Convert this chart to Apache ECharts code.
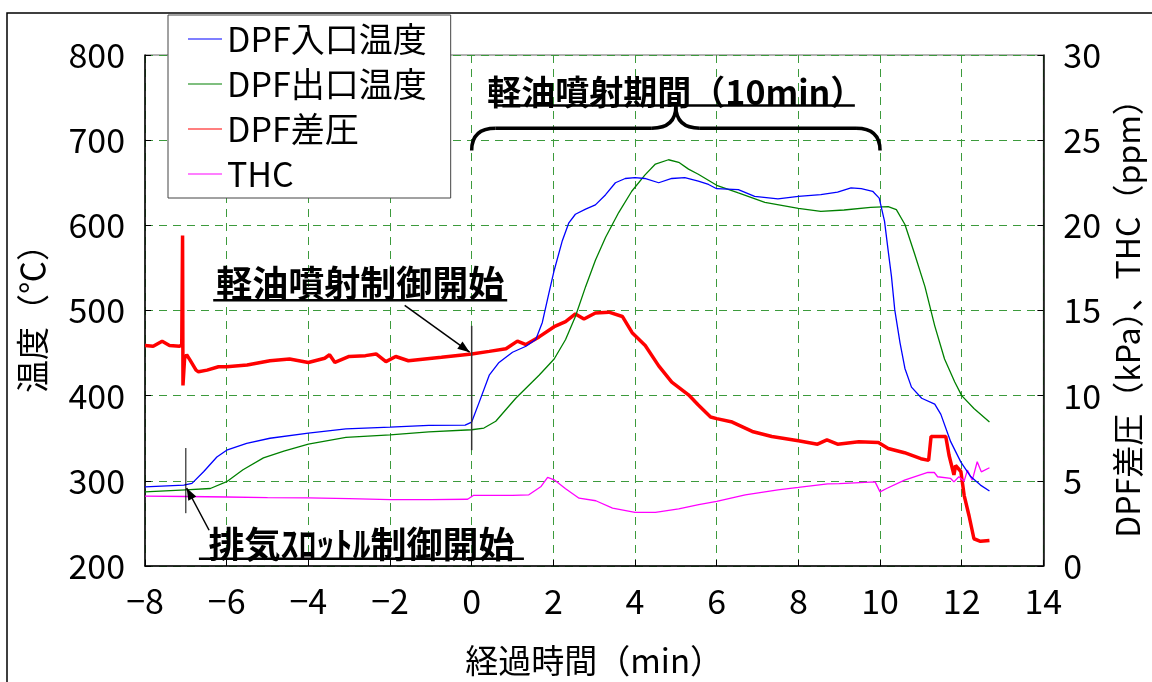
<!DOCTYPE html>
<html><head><meta charset="utf-8">
<script src="https://cdn.jsdelivr.net/npm/echarts@6/dist/echarts.min.js"></script>
<style>html,body{margin:0;padding:0;background:#fff}#c{width:1152px;height:682px}</style>
</head><body><div id="c"></div>
<script>
// ---- data (time in min, temperatures in °C, DPF差圧 in kPa, THC in ppm) ----
const seriesNames = ['DPF入口温度', 'DPF出口温度', 'DPF差圧', 'THC'];
const inletTemp = [[-8,293],[-7.05,295],[-6.85,297],[-6.56,311],[-6.24,328],[-6,336],[-5.51,344],[-4.94,350],[-4,356],[-3.08,361],[-2,363],[-1.05,365],[-0.16,365.5],[0,369],[0.19,393],[0.43,424],[0.67,439],[1,451],[1.33,458],[1.57,466],[1.73,486],[1.89,520],[2.02,547],[2.22,582],[2.38,603],[2.54,613],[2.79,619],[3.03,624],[3.28,636],[3.52,650],[3.76,655],[4,656],[4.24,655],[4.58,650],[4.9,655],[5.22,656],[5.55,652],[5.8,648],[6,643],[6.53,642],[6.93,634],[7.5,631],[8,634],[8.55,636],[8.96,639],[9.29,644],[9.54,643],[9.82,640],[9.98,632],[10.11,605],[10.2,570],[10.28,540],[10.36,501],[10.49,462],[10.61,432],[10.77,410],[11.02,397],[11.34,390],[11.49,378],[11.73,346],[11.98,322],[12.22,305],[12.46,295],[12.68,288]];
const outletTemp = [[-8,287],[-7,289.5],[-6.4,291],[-6,299],[-5.6,313],[-5.1,327],[-4.6,335],[-4,343],[-3.08,351],[-2,354],[-1.05,357.5],[0,360],[0.3,362],[0.59,370],[1.08,397],[1.65,424],[2.02,443],[2.3,466],[2.54,493],[2.79,528],[3.03,559],[3.28,586],[3.6,615],[3.92,640],[4.24,659],[4.5,672],[4.82,677],[5.07,674],[5.31,666],[5.55,660],[6,647],[6.53,638],[7.18,627],[8,620],[8.55,616.5],[9.12,618],[9.77,621],[10.2,622],[10.4,618.5],[10.61,601],[10.85,566],[11.1,528],[11.34,482],[11.58,443],[11.83,416],[12,400],[12.3,385],[12.68,369]];
const dpfPressure = [[-8,12.95],[-7.8,12.9],[-7.58,13.2],[-7.4,12.95],[-7.15,12.9],[-7.1,13],[-7.08,19.4],[-7.07,10.6],[-7.03,12.2],[-6.98,12.4],[-6.9,12.1],[-6.75,11.5],[-6.69,11.4],[-6.48,11.5],[-6.2,11.7],[-6,11.7],[-5.5,11.8],[-4.94,12.05],[-4.46,12.15],[-4,11.95],[-3.6,12.2],[-3.48,12.4],[-3.35,11.95],[-3,12.3],[-2.6,12.35],[-2.34,12.45],[-2.1,12],[-1.86,12.3],[-1.55,12.05],[-0.74,12.25],[0,12.45],[0.43,12.6],[0.84,12.75],[1.12,13.2],[1.33,13],[1.65,13.45],[2.02,14.05],[2.3,14.35],[2.54,14.8],[2.75,14.5],[3.03,14.85],[3.36,14.9],[3.69,14.65],[3.93,13.7],[4.25,12.95],[4.58,11.75],[4.9,10.8],[5.31,10.05],[5.55,9.45],[5.85,8.75],[6,8.65],[6.38,8.45],[6.87,7.9],[7.35,7.6],[8,7.35],[8.47,7.15],[8.7,7.4],[8.96,7.15],[9.48,7.3],[9.96,7.25],[10.2,6.9],[10.6,6.65],[11,6.3],[11.19,6.2],[11.25,7.6],[11.61,7.6],[11.69,6.5],[11.81,5.35],[11.85,5.9],[11.98,5.55],[12.06,4.15],[12.18,2.95],[12.3,1.6],[12.46,1.45],[12.68,1.5]];
const thcPpm = [[-8,4.1],[-7,4.08],[-6,4.05],[-5,4.02],[-4,4],[-3,3.95],[-2,3.9],[-1,3.9],[-0.1,3.92],[0.05,4.15],[0.5,4.15],[1,4.15],[1.4,4.18],[1.7,4.67],[1.86,5.2],[2.02,5.06],[2.3,4.53],[2.63,3.98],[3.04,3.83],[3.45,3.4],[4,3.15],[4.5,3.15],[5.07,3.36],[5.56,3.6],[6,3.79],[6.7,4.18],[7.5,4.47],[8,4.61],[8.72,4.82],[9,4.84],[9.88,4.94],[10,4.35],[10.16,4.55],[10.6,5.04],[11.17,5.49],[11.33,5.49],[11.41,5.24],[11.73,5.14],[11.81,4.94],[11.93,5.24],[12.06,4.98],[12.14,5.63],[12.26,5.04],[12.38,6.12],[12.48,5.53],[12.68,5.77]];
const xTicks = {min: -8, max: 14, step: 2};
const leftTicks = {min: 200, max: 800, step: 100};
const rightTicks = {min: 0, max: 30, step: 5};
const annoTexts = ['軽油噴射期間（10min）', '軽油噴射制御開始', '排気ｽﾛｯﾄﾙ制御開始'];

const FONT = '"Noto Sans CJK JP", "Noto Sans", sans-serif';
const chart = echarts.init(document.getElementById('c'), null, {renderer: 'canvas'});
const gridDash = {color: '#3c9a3c', type: [8, 6], width: 1};

chart.setOption({
  backgroundColor: '#fff',
  animation: false,
  grid: {left: 145, right: 101, top: 55, bottom: 116, show: true, borderColor: '#666', borderWidth: 1},
  legend: {
    orient: 'vertical', left: 168, top: 15,
    backgroundColor: '#fff', borderColor: '#444', borderWidth: 1,
    padding: [6, 24, 6, 20], itemGap: 9, itemWidth: 34, itemHeight: 14,
    textStyle: {fontFamily: FONT, fontSize: 34, color: '#000', lineHeight: 36},
    data: seriesNames.map(n => ({name: n, icon: 'path://M0,0 L34,0 L34,1 L0,1 Z'}))
  },
  xAxis: {
    type: 'value', min: xTicks.min, max: xTicks.max, interval: xTicks.step,
    name: '経過時間（min）', nameLocation: 'middle', nameGap: 78,
    nameTextStyle: {fontFamily: FONT, fontSize: 33, color: '#000'},
    axisLine: {onZero: false, lineStyle: {color: '#000', width: 1.5}},
    axisTick: {inside: true, length: 6, lineStyle: {color: '#000'}},
    axisLabel: {fontFamily: FONT, fontSize: 34, color: '#000', margin: 18,
      formatter: v => String(v).replace('-', '−')},
    splitLine: {show: true, lineStyle: gridDash}
  },
  yAxis: [{
    type: 'value', min: leftTicks.min, max: leftTicks.max, interval: leftTicks.step,
    name: '温度（℃）', nameLocation: 'middle', nameGap: 96, nameRotate: 90,
    nameTextStyle: {fontFamily: FONT, fontSize: 33, color: '#000'},
    axisLine: {show: true, onZero: false, lineStyle: {color: '#000', width: 1.5}},
    axisTick: {show: true, inside: true, length: 6, lineStyle: {color: '#000'}},
    axisLabel: {fontFamily: FONT, fontSize: 34, color: '#000', margin: 20},
    splitLine: {show: true, lineStyle: gridDash}
  }, {
    type: 'value', position: 'right', min: rightTicks.min, max: rightTicks.max, interval: rightTicks.step,
    name: 'DPF差圧（kPa）、THC（ppm）', nameLocation: 'middle', nameGap: 68, nameRotate: 90,
    nameTextStyle: {fontFamily: FONT, fontSize: 32, color: '#000'},
    axisLine: {show: true, onZero: false, lineStyle: {color: '#000', width: 1.5}},
    axisTick: {show: true, inside: true, length: 6, lineStyle: {color: '#000'}},
    axisLabel: {fontFamily: FONT, fontSize: 34, color: '#000', margin: 20},
    splitLine: {show: false}
  }],
  series: [
    {name: seriesNames[0], type: 'line', yAxisIndex: 0, data: inletTemp, symbol: 'none', lineStyle: {color: '#0000ff', width: 1.3}, itemStyle: {color: '#0000ff'}, z: 4},
    {name: seriesNames[1], type: 'line', yAxisIndex: 0, data: outletTemp, symbol: 'none', lineStyle: {color: '#008000', width: 1.3}, itemStyle: {color: '#008000'}, z: 3},
    {name: seriesNames[2], type: 'line', yAxisIndex: 1, data: dpfPressure, symbol: 'none', lineStyle: {color: '#ff0000', width: 3.5}, itemStyle: {color: '#ff0000'}, z: 2},
    {name: seriesNames[3], type: 'line', yAxisIndex: 1, data: thcPpm, symbol: 'none', lineStyle: {color: '#ff00ff', width: 1.3}, itemStyle: {color: '#ff00ff'}, z: 2}
  ]
});

// ---- annotations anchored in data coordinates (min, °C) ----
function P(t, T) { return chart.convertToPixel({xAxisIndex: 0, yAxisIndex: 0}, [t, T]); }
const g = [];
g.push({type: 'rect', shape: {x: 7, y: 13, width: 1200, height: 720}, style: {fill: 'none', stroke: '#000', lineWidth: 1.5}, silent: true, z: 0});
function text(str, c, size) {
  g.push({type: 'text', x: c[0], y: c[1], z: 50, style: {text: str, font: 'bold ' + size + 'px ' + FONT, fill: '#000', textAlign: 'center', textVerticalAlign: 'middle', verticalAlign: 'middle', align: 'center'}});
}
function line(a, b, w, color) {
  g.push({type: 'line', z: 50, shape: {x1: a[0], y1: a[1], x2: b[0], y2: b[1]}, style: {stroke: color || '#000', lineWidth: w}});
}
function arrow(a, b) {
  line(a, b, 1.5);
  const ang = Math.atan2(b[1] - a[1], b[0] - a[0]), L = 12, W = 4.5;
  const bx = b[0] - L * Math.cos(ang), by = b[1] - L * Math.sin(ang);
  g.push({type: 'polygon', z: 50, shape: {points: [b, [bx + W * Math.sin(ang), by - W * Math.cos(ang)], [bx - W * Math.sin(ang), by + W * Math.cos(ang)]]}, style: {fill: '#000'}});
}
function underline(c, width, dy) {
  line([c[0] - width / 2, c[1] + dy], [c[0] + width / 2, c[1] + dy], 2.5);
}
// period text + brace
const c1 = P(5, 757); text(annoTexts[0], c1, 34); underline(c1, 358, 14);
const bL = P(0, 688), bR = P(10, 688), hY = P(5, 714)[1], tip = P(5, 740);
const r = 24;
g.push({type: 'bezierCurve', z: 50, shape: {x1: bL[0], y1: bL[1], cpx1: bL[0], cpy1: hY, x2: bL[0] + r, y2: hY}, style: {stroke: '#000', lineWidth: 3.5, fill: 'none'}});
line([bL[0] + r, hY], [tip[0] - r, hY], 3.5);
g.push({type: 'bezierCurve', z: 50, shape: {x1: tip[0] - r, y1: hY, cpx1: tip[0], cpy1: hY, x2: tip[0], y2: tip[1]}, style: {stroke: '#000', lineWidth: 3.5, fill: 'none'}});
g.push({type: 'bezierCurve', z: 50, shape: {x1: tip[0], y1: tip[1], cpx1: tip[0], cpy1: hY, x2: tip[0] + r, y2: hY}, style: {stroke: '#000', lineWidth: 3.5, fill: 'none'}});
line([tip[0] + r, hY], [bR[0] - r, hY], 3.5);
g.push({type: 'bezierCurve', z: 50, shape: {x1: bR[0] - r, y1: hY, cpx1: bR[0], cpy1: hY, x2: bR[0], y2: bR[1]}, style: {stroke: '#000', lineWidth: 3.5, fill: 'none'}});
// injection start
const c2 = P(-2.73, 532); text(annoTexts[1], c2, 36); underline(c2, 294, 17);
arrow(P(-1.64, 506), P(-0.05, 451));
line(P(0, 482), P(0, 336), 1.5, '#333');
// throttle start
const c3 = P(-2.7, 226); text(annoTexts[2], c3, 36); underline(c3, 325, 15);
arrow(P(-6.43, 242), P(-6.98, 291.6));
line(P(-7, 338.5), P(-7, 262), 1, '#000');
chart.setOption({graphic: {elements: g}});
</script></body></html>
